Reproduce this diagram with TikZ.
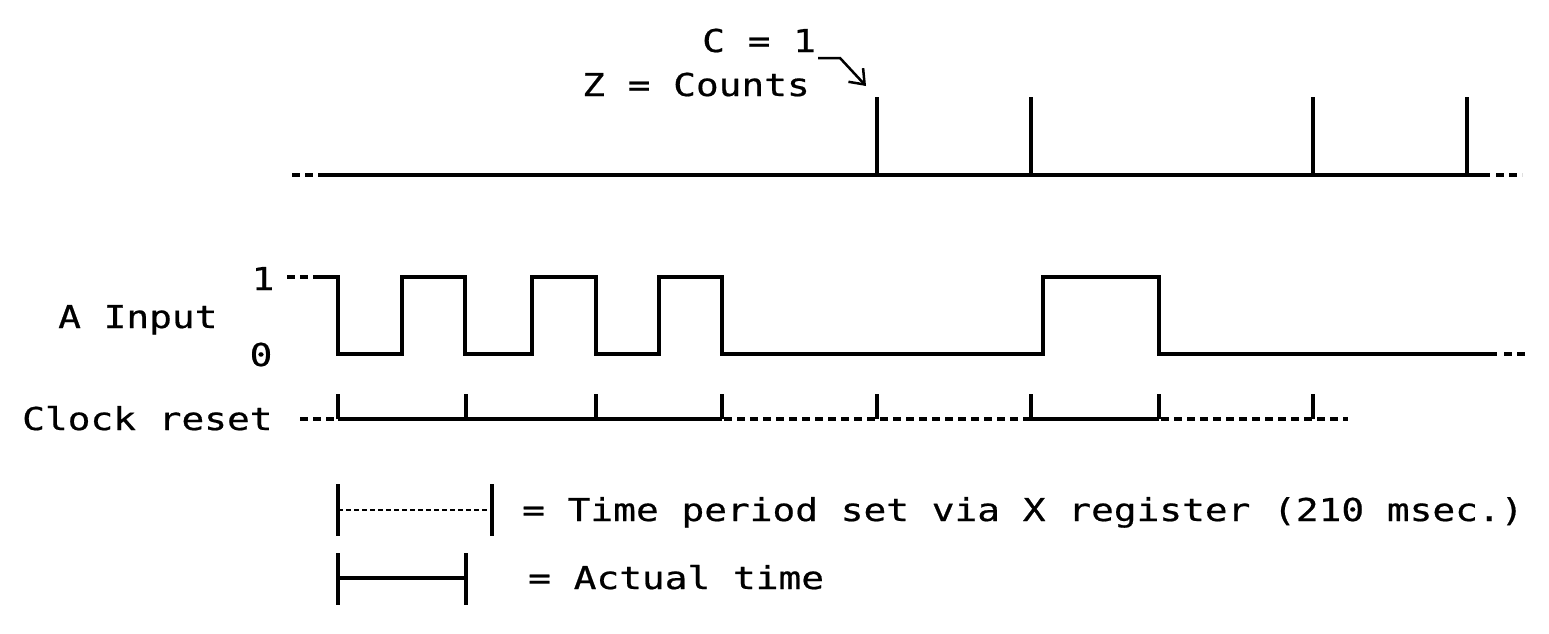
\documentclass[tikz,border=0pt]{standalone}
\usepackage{fontspec}
\newfontfamily\mono[FakeStretch=1.2,FakeBold=0.6]{DejaVu Sans Mono}
\usetikzlibrary{arrows.meta}
\begin{document}
\begin{tikzpicture}[x=1pt,y=-1pt,
  sig/.style={line width=3.2pt},
  dsh/.style={line width=3.2pt,dash pattern=on 8pt off 5pt},
  legdsh/.style={line width=2pt,dash pattern=on 5pt off 3pt},
  lbl/.style={font=\mono\fontsize{31.5}{36}\selectfont,inner sep=0pt,anchor=base west},
  clbl/.style={font=\mono\fontsize{31.5}{36}\selectfont,inner sep=0pt,anchor=base}]
\useasboundingbox (0,0) rectangle (1549,633);
% labels
\node[lbl] (c1) at (702,52) {C = 1};
\node[lbl] (zc) at (582,96) {Z = Counts};
\node[lbl] (ain) at (58,328) {A Input};
\node[clbl] (one) at (263,290) {1};
\node[clbl] (zero) at (261,366) {0};
\node[lbl] (clk) at (22,430) {Clock reset};
\node[lbl] (leg1) at (522,521) {= Time period set via X register (210 msec.)};
\node[lbl] (leg2) at (528,589) {= Actual time};
% top line with count spikes
\draw[dsh] (292,175) -- (320,175);
\draw[sig] (320,175) -- (1490,175);
\draw[dsh] (1496,175) -- (1522,175);
\foreach \x in {877,1031,1313,1467} \draw[sig] (\x,175) -- (\x,97);
% arrow
\coordinate (arrS) at (818,58);
\coordinate (arrK) at (840,58);
\coordinate (arrE) at (866,86);
\draw[line width=2.5pt,-{Straight Barb[length=13pt,width=20pt]}] (arrS) -- (arrK) -- (arrE);
% A input
\draw[dsh] (287,277) -- (313,277);
\draw[sig] (313,277) -- (338,277) -- (338,354) -- (402,354) -- (402,277) -- (465,277) -- (465,354)
  -- (532,354) -- (532,277) -- (596,277) -- (596,354) -- (659,354) -- (659,277) -- (722,277)
  -- (722,354) -- (1043,354) -- (1043,277) -- (1159,277) -- (1159,354) -- (1497,354);
\draw[dsh] (1504,354) -- (1528,354);
% clock reset
\draw[dsh] (300,419) -- (336,419);
\draw[sig] (338,419) -- (722,419);
\draw[dsh] (724,419) -- (1031,419);
\draw[sig] (1031,419) -- (1159,419);
\draw[dsh] (1161,419) -- (1348,419);
\foreach \x in {338,466,596,722,877,1031,1159,1313} \draw[sig] (\x,419) -- (\x,394);
% legend
\draw[sig] (338,484) -- (338,536);
\draw[sig] (492,484) -- (492,536);
\draw[legdsh] (338,510) -- (492,510);
\draw[sig] (338,553) -- (338,605);
\draw[sig] (466,553) -- (466,605);
\draw[sig] (338,578) -- (466,578);
\end{tikzpicture}
\end{document}
